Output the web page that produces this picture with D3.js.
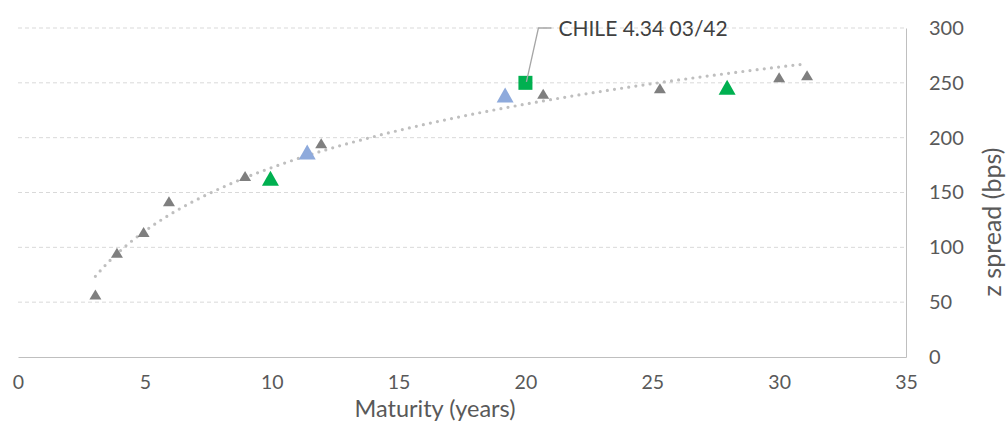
<!DOCTYPE html>
<html><head><meta charset="utf-8">
<script src="https://cdn.jsdelivr.net/npm/d3@7/dist/d3.min.js"></script>
<style>
body{margin:0;background:#fff;}
text{font-family:Lato,"Open Sans",sans-serif;}
</style></head>
<body><svg id="c" width="1006" height="422"></svg>
<script>
const grayX = [3.05, 3.9, 4.95, 5.95, 8.95, 11.95, 20.7, 25.3, 30.0, 31.1];
const grayY = [57, 95, 114, 142, 165, 195, 240, 245, 255, 257];
const blueX = [11.4, 19.2];
const blueY = [187, 239];
const greenX = [9.95, 27.95];
const greenY = [163, 246];
const highlightX = [20.0];
const highlightY = [250];
const highlightLabel = ["CHILE 4.34 03/42"];
const xTicks = [0, 5, 10, 15, 20, 25, 30, 35];
const yTicks = [0, 50, 100, 150, 200, 250, 300];
const xTitle = "Maturity (years)";
const yTitle = "z spread (bps)";

const svg = d3.select("#c");
const x = d3.scaleLinear().domain([0, 35]).range([18, 906]);
const y = d3.scaleLinear().domain([0, 300]).range([357, 28]);

// gridlines
svg.append("g").selectAll("line").data(yTicks.filter(d => d > 0)).join("line")
  .attr("x1", x(0)).attr("x2", x(35))
  .attr("y1", d => y(d)).attr("y2", d => y(d))
  .attr("stroke", "#d9d9d9").attr("stroke-width", 1).attr("stroke-dasharray", "4 3");

// bottom axis
const xa = svg.append("g").attr("transform", `translate(0,${y(0)})`)
  .call(d3.axisBottom(x).tickValues(xTicks).tickSize(0).tickPadding(18));
xa.select(".domain").attr("stroke", "#bfbfbf");
xa.selectAll("text").attr("font-size", 19.5).attr("fill", "#595959");

// right axis
const ya = svg.append("g").attr("transform", `translate(${x(35)},0)`)
  .call(d3.axisRight(y).tickValues(yTicks).tickSize(0).tickPadding(23));
ya.select(".domain").attr("stroke", "#bfbfbf");
ya.selectAll("text").attr("font-size", 20).attr("fill", "#595959");

svg.append("text").attr("x", 435).attr("y", 416.5).attr("text-anchor", "middle")
  .attr("font-size", 23.5).attr("fill", "#595959").text(xTitle);
svg.append("text").attr("transform", "translate(1001,222) rotate(-90)")
  .attr("text-anchor", "middle").attr("font-size", 25).attr("fill", "#595959").text(yTitle);

// logarithmic trendline from all points (least squares on ln x)
const allX = grayX.concat(blueX, greenX, highlightX);
const allY = grayY.concat(blueY, greenY, highlightY);
const lx = allX.map(Math.log);
const mx = d3.mean(lx), my = d3.mean(allY);
const b = d3.sum(lx, (v, i) => (v - mx) * (allY[i] - my)) / d3.sum(lx, v => (v - mx) * (v - mx));
const a = my - b * mx;
const [xmin, xmax] = d3.extent(allX);
const trendPts = d3.range(0, 101).map(i => {
  const xv = xmin + (xmax - xmin) * i / 100;
  return [xv, a + b * Math.log(xv)];
});
svg.append("path").datum(trendPts)
  .attr("d", d3.line().x(d => x(d[0])).y(d => y(d[1])))
  .attr("fill", "none").attr("stroke", "#bfbfbf").attr("stroke-width", 3.2)
  .attr("stroke-linecap", "round").attr("stroke-dasharray", "0 7.2");

function tri(w, h) {
  return `M0,${-h / 2}L${w / 2},${h / 2}L${-w / 2},${h / 2}Z`;
}
function drawTri(xs, ys, w, h, color) {
  svg.append("g").selectAll("path").data(xs.map((v, i) => [v, ys[i]])).join("path")
    .attr("transform", d => `translate(${x(d[0])},${y(d[1])})`)
    .attr("d", tri(w, h)).attr("fill", color);
}
drawTri(grayX, grayY, 12, 10, "#7f7f7f");
drawTri(blueX, blueY, 17, 15, "#8eaadc");
drawTri(greenX, greenY, 17, 15, "#00b050");

// highlight square
const hx = x(highlightX[0]), hy = y(highlightY[0]);
svg.append("rect").attr("x", hx - 7).attr("y", hy - 7).attr("width", 14).attr("height", 14)
  .attr("fill", "#00b050");
// leader line
svg.append("path").attr("d", `M${hx + 1},${hy - 1}L${hx + 13},${y(300)}L${hx + 26},${y(300)}`)
  .attr("fill", "none").attr("stroke", "#a6a6a6").attr("stroke-width", 1.3);
svg.append("text").attr("x", hx + 33).attr("y", y(300) + 7.5)
  .attr("font-size", 21).attr("fill", "#404040").text(highlightLabel[0]);
</script></body></html>
